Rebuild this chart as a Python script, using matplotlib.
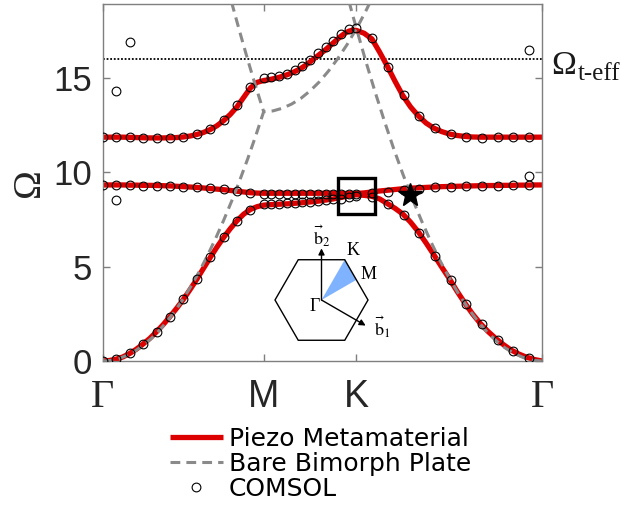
import numpy as np
import matplotlib
matplotlib.use("Agg")
import matplotlib.pyplot as plt
from matplotlib.patches import Polygon, Rectangle
from matplotlib.transforms import blended_transform_factory

plt.rcParams["mathtext.fontset"] = "stix"

# ---- high-symmetry path Γ-M-K-Γ (path length) ----
hs_pos = [0.0, 0.866, 1.366, 2.366]
hs_labels = ["Γ", "M", "K", "Γ"]
S_G1, S_M, S_K, S_G2 = hs_pos

# ---- piezo metamaterial model bands (25 samples per leg) ----
band1_gm = [0, 0.03, 0.1, 0.22, 0.4, 0.63, 0.9, 1.2, 1.55, 1.93, 2.35, 2.79, 3.26,
            3.78, 4.32, 4.9, 5.47, 6.02, 6.53, 7.0, 7.42, 7.77, 8.02, 8.17, 8.25]
band1_mk = [8.27, 8.28, 8.29, 8.3, 8.31, 8.32, 8.33, 8.35, 8.36, 8.38, 8.4, 8.42,
            8.44, 8.46, 8.49, 8.52, 8.55, 8.58, 8.62, 8.66, 8.7, 8.74, 8.78, 8.8]
band1_kg = [8.77, 8.72, 8.58, 8.33, 8.08, 7.78, 7.35, 6.84, 6.25, 5.63, 4.99, 4.37,
            3.7, 3.08, 2.5, 2.0, 1.57, 1.2, 0.87, 0.58, 0.37, 0.2, 0.08, 0.0]

band2_gm = [9.32, 9.32, 9.32, 9.32, 9.31, 9.31, 9.3, 9.3, 9.29, 9.28, 9.27, 9.25, 9.23,
            9.21, 9.19, 9.16, 9.13, 9.1, 9.07, 9.03, 8.99, 8.95, 8.91, 8.89, 8.88]
band2_mk = [8.88, 8.88, 8.88, 8.88, 8.88, 8.88, 8.88, 8.88, 8.88, 8.88, 8.88, 8.88,
            8.88, 8.88, 8.88, 8.88, 8.88, 8.88, 8.88, 8.87, 8.87, 8.87, 8.87, 8.87]
band2_kg = [8.9, 8.95, 9.0, 9.04, 9.08, 9.12, 9.15, 9.17, 9.19, 9.21, 9.23, 9.24,
            9.25, 9.26, 9.27, 9.28, 9.29, 9.29, 9.3, 9.3, 9.31, 9.31, 9.32, 9.32]

band3_gm = [11.85, 11.85, 11.85, 11.85, 11.84, 11.83, 11.82, 11.81, 11.81, 11.81,
            11.82, 11.83, 11.86, 11.91, 11.99, 12.1, 12.25, 12.45, 12.72, 13.05,
            13.45, 13.95, 14.45, 14.75, 14.85]
band3_mk = [14.88, 14.92, 14.97, 15.02, 15.08, 15.15, 15.23, 15.32, 15.42, 15.54,
            15.68, 15.84, 16.0, 16.16, 16.32, 16.48, 16.66, 16.84, 17.02, 17.2,
            17.35, 17.46, 17.52, 17.5]
band3_kg = [17.35, 17.05, 16.35, 15.6, 14.8, 14.05, 13.45, 12.98, 12.6, 12.33, 12.15,
            12.02, 11.94, 11.89, 11.86, 11.85, 11.85, 11.85, 11.85, 11.85, 11.85,
            11.85, 11.85, 11.85]

# ---- bare bimorph plate (folded flexural branches) ----
bare_low_gm = [0, 0.03, 0.13, 0.3, 0.53, 0.83, 1.19, 1.62, 2.11, 2.67, 3.3, 3.99,
               4.75, 5.58, 6.47, 7.43, 8.45, 9.54, 10.69, 11.91, 13.2]
bare_low_mk = [13.24, 13.38, 13.6, 13.9, 14.3, 14.78, 15.36, 16.02, 16.76, 17.6]
bare_low_kg = [15.88, 14.26, 12.72, 11.26, 9.9, 8.62, 7.44, 6.34, 5.32, 4.4, 3.56,
               2.82, 2.16, 1.58, 1.1, 0.7, 0.4, 0.18, 0.04, 0.0]
bare_fold_gm = [19.0, 18.23, 17.46, 16.71, 15.97, 15.25, 14.55, 13.87, 13.2]
bare_fold_k = [19.03, 18.3, 17.6, 17.91, 18.24, 18.57, 18.92]

# ---- COMSOL eigenfrequencies (13 / 12 / 11 samples on the three legs) ----
comsol_b1 = [0, 0.1, 0.4, 0.9, 1.55, 2.35, 3.26, 4.34, 5.49, 6.54, 7.42, 8.02, 8.3,
             8.31, 8.33, 8.35, 8.37, 8.4, 8.43, 8.46, 8.5, 8.55, 8.6, 8.66, 8.72,
             8.68, 8.3, 7.72, 6.78, 5.58, 4.31, 3.04, 1.94, 1.13, 0.53, 0.18]
comsol_b2 = [9.31, 9.31, 9.31, 9.28, 9.28, 9.28, 9.22, 9.19, 9.14, 9.08, 8.99, 8.9, 8.85,
             8.84, 8.84, 8.84, 8.84, 8.84, 8.84, 8.84, 8.84, 8.84, 8.84, 8.83, 8.82,
             8.87, 8.96, 9.05, 9.13, 9.19, 9.22, 9.26, 9.28, 9.28, 9.3, 9.3]
comsol_b3 = [11.87, 11.87, 11.87, 11.82, 11.8, 11.82, 11.85, 12.0, 12.26, 12.76, 13.53,
             14.49, 15.0, 15.02, 15.09, 15.19, 15.4, 15.62, 15.94, 16.28, 16.62, 16.96,
             17.3, 17.56, 17.65, 17.08, 15.59, 14.08, 12.97, 12.32, 12.0, 11.87, 11.82,
             11.84, 11.87, 11.87]
comsol_extra_idx = [1, 1, 2, 35, 35]
comsol_extra_val = [14.27, 8.5, 16.9, 16.48, 9.8]

omega_t_eff = 16.0
star_k, star_omega = 1.655, 8.8
box_center = (S_K, 8.72)
box_half = (0.0975, 0.955)

# ---- sample positions along the path ----
x_model = np.concatenate([np.linspace(S_G1, S_M, 25),
                          np.linspace(S_M, S_K, 25)[1:],
                          np.linspace(S_K, S_G2, 25)[1:]])
x_comsol = np.concatenate([np.linspace(S_G1, S_M, 13),
                           np.linspace(S_M, S_K, 13)[1:],
                           np.linspace(S_K, S_K + 0.93, 12)[1:]])
x_bare_low = np.concatenate([np.linspace(S_G1, S_M, 21),
                             np.linspace(S_M, S_K, 11)[1:],
                             np.linspace(S_K, S_G2, 21)[1:]])
x_bare_fold_gm = np.linspace(0.8 * S_M, S_M, 9)
x_bare_fold_k = np.concatenate([np.linspace(S_K - 0.04, S_K, 3),
                                np.linspace(S_K, S_K + 0.07, 5)[1:]])

RED = "#dd0000"
GRAY = "#8a8a8a"
SPINE = "#7f7f7f"

fig = plt.figure(figsize=(6.21, 5.07), dpi=100)
ax = fig.add_axes([103 / 621, 1 - 361 / 507, 439 / 621, 357 / 507])

bands = [band1_gm + band1_mk + band1_kg,
         band2_gm + band2_mk + band2_kg,
         band3_gm + band3_mk + band3_kg]
for i, b in enumerate(bands):
    ax.plot(x_model, b, color=RED, lw=3.8, solid_capstyle="butt", zorder=2,
            label="Piezo Metamaterial" if i == 0 else None)

dash = dict(color=GRAY, lw=2.2, ls=(0, (3.2, 2.0)), zorder=3)
ax.plot(x_bare_low, bare_low_gm + bare_low_mk + bare_low_kg,
        label="Bare Bimorph Plate", **dash)
ax.plot(x_bare_fold_gm, bare_fold_gm, **dash)
ax.plot(x_bare_fold_k, bare_fold_k, **dash)

circ = dict(ls="none", marker="o", mfc="none", mec="k", ms=6.3, mew=0.8, zorder=5)
for i, c in enumerate([comsol_b1, comsol_b2, comsol_b3]):
    ax.plot(x_comsol, c, label="COMSOL" if i == 0 else None, **circ)
ax.plot(x_comsol[comsol_extra_idx], comsol_extra_val, **circ)

ax.axhline(omega_t_eff, color="k", lw=1.3, ls=(0, (1, 1)), zorder=1)
ax.plot(star_k, star_omega, marker="*", color="k", ms=18, ls="none", zorder=6)
ax.add_patch(Rectangle((box_center[0] - box_half[0], box_center[1] - box_half[1]),
                       2 * box_half[0], 2 * box_half[1], fill=False, ec="k",
                       lw=2.4, zorder=6))

ax.set_xlim(S_G1, S_G2)
ax.set_ylim(0, 18.9)
ax.set_xticks(hs_pos)
ax.set_xticklabels(hs_labels)
ax.set_yticks([0, 5, 10, 15])
ax.tick_params(direction="in", length=5, width=1, color=SPINE, top=True, right=True,
               labelcolor="#262626")
ax.tick_params(axis="x", pad=13)
ax.tick_params(axis="y", pad=8)
for lbl in ax.get_yticklabels():
    lbl.set_fontfamily("Liberation Sans")
    lbl.set_fontsize(25)
for lbl, txt in zip(ax.get_xticklabels(), hs_labels):
    if txt == "Γ":
        lbl.set_fontfamily("Liberation Serif")
        lbl.set_fontsize(29)
    else:
        lbl.set_fontfamily("Liberation Sans")
        lbl.set_fontsize(27)
for sp in ax.spines.values():
    sp.set_color(SPINE)
    sp.set_linewidth(1.0)

ax.set_ylabel("Ω", fontfamily="Liberation Serif", fontsize=28, color="#262626")
ax.yaxis.set_label_coords(-0.125, 0.5)

tr = blended_transform_factory(ax.transAxes, ax.transData)
ax.text(1.021, 15.2, "Ω", transform=tr, fontfamily="Liberation Serif",
        fontsize=24, va="baseline", ha="left", color="#1a1a1a")
ax.text(1.082, 14.85, "t-eff", transform=tr, fontfamily="Liberation Serif",
        fontsize=18, va="baseline", ha="left", color="#1a1a1a")

fig.legend(loc="upper left", bbox_to_anchor=(170 / 621, 1 - 427 / 507),
           frameon=False, prop={"family": "DejaVu Sans", "size": 18},
           handlelength=2.1, handletextpad=0.25, labelspacing=0.04,
           borderpad=0, borderaxespad=0, numpoints=1)

# ---- Brillouin-zone inset ----
R_px = 46.5
half = 80 / R_px
axi = fig.add_axes([241.5 / 621, (507 - 380) / 507, 160 / 621, 160 / 507])
axi.set_xlim(-half, half)
axi.set_ylim(-half, half)
axi.axis("off")
ang = np.deg2rad(np.arange(0, 360, 60))
hexagon = np.column_stack([np.cos(ang), np.sin(ang)])
K_pt = (np.cos(np.pi / 3), np.sin(np.pi / 3))
M_pt = (0.75, np.sqrt(3) / 4)
axi.add_patch(Polygon([(0, 0), K_pt, M_pt], closed=True, fc="#80b3ff", ec="none"))
axi.add_patch(Polygon(hexagon, closed=True, fill=False, ec="k", lw=1.0))
arrow = dict(arrowstyle="-|>", color="k", lw=1.0, mutation_scale=9,
             shrinkA=0, shrinkB=0)
axi.annotate("", xy=(0, 1.11), xytext=(0, 0), arrowprops=arrow)
axi.annotate("", xy=(0.95, -0.55), xytext=(0, 0), arrowprops=arrow)
serif = dict(fontfamily="Liberation Serif", fontsize=13, ha="center", va="center")
axi.text(0.67, 1.06, "K", **serif)
axi.text(1.02, 0.55, "M", **serif)
axi.text(-0.15, -0.14, "Γ", **serif)
axi.text(0.0, 1.38, r"$\vec{\mathrm{b}}_2$", fontsize=13, ha="center", va="center")
axi.text(1.3, -0.58, r"$\vec{\mathrm{b}}_1$", fontsize=13, ha="center", va="center")

fig.savefig("out.png", dpi=100)
